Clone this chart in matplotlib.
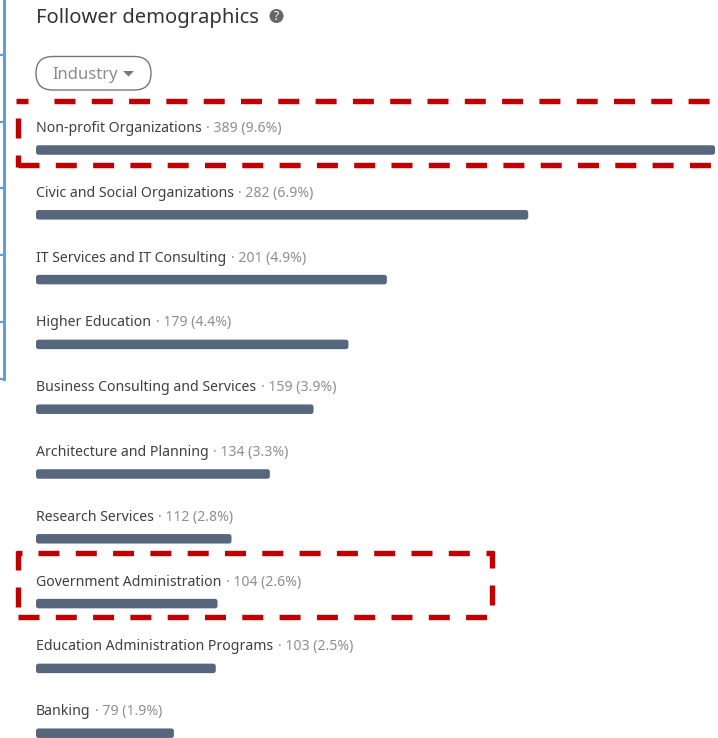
import matplotlib
matplotlib.use("Agg")
import matplotlib.pyplot as plt
from matplotlib.patches import Circle, FancyBboxPatch, Polygon

plt.rcParams['font.family'] = ['Noto Sans', 'DejaVu Sans']
plt.rcParams['lines.scale_dashes'] = False

industries = ["Non-profit Organizations", "Civic and Social Organizations",
              "IT Services and IT Consulting", "Higher Education",
              "Business Consulting and Services", "Architecture and Planning",
              "Research Services", "Government Administration",
              "Education Administration Programs", "Banking"]
followers = [389, 282, 201, 179, 159, 134, 112, 104, 103, 79]
shares = ["9.6%", "6.9%", "4.9%", "4.4%", "3.9%", "3.3%", "2.8%", "2.6%", "2.5%", "1.9%"]

W, H = 718, 738
PT = 72 / 100  # points per pixel at dpi 100
BAR_COLOR = "#56677d"
RED = "#c00000"
BLUE = "#5c9ee0"

fig = plt.figure(figsize=(W / 100, H / 100), dpi=100, facecolor="white")

# bars: x is follower count, y is the row number
ax = fig.add_axes([36 / W, 0, 679 / W, 1])
row_h = 64.8
ax.set_xlim(0, 389)
ax.set_ylim((H - 150) / row_h, -150 / row_h)
ax.axis("off")

px_x = 679 / 389
bar_h = 9.5 / row_h
radius = 2.5 / px_x
for i, (name, n, pct) in enumerate(zip(industries, followers, shares)):
    ax.add_patch(FancyBboxPatch((0, i - bar_h / 2), n, bar_h,
                                boxstyle=f"round,pad=0,rounding_size={radius}",
                                mutation_aspect=px_x / row_h,
                                fc=BAR_COLOR, ec="none"))
    label = ax.annotate(name, xy=(0, i), xytext=(0, 21.5 * PT), textcoords="offset points",
                        fontsize=10.15, color="#404040", va="center", ha="left")
    ax.annotate(f"· {n} ({pct})", xy=(1, 0.5), xycoords=label, xytext=(4.5 * PT, 0),
                textcoords="offset points", fontsize=10.15, color="#8f8f8f",
                va="center", ha="left")

# page furniture in pixel coordinates
ov = fig.add_axes([0, 0, 1, 1])
ov.set_xlim(0, W)
ov.set_ylim(H, 0)
ov.axis("off")

ov.text(36, 18.5, "Follower demographics", fontsize=14.5, color="#333333", va="center", ha="left")
ov.add_patch(Circle((276.5, 16), 7, fc="#666666", ec="none"))
ov.text(276.5, 16, "?", fontsize=8.5, fontweight="bold", color="white", va="center", ha="center")

ov.add_patch(FancyBboxPatch((36, 56.5), 115, 33.5, boxstyle="round,pad=0,rounding_size=16.7",
                            fc="white", ec="#777777", lw=1))
ov.text(52, 75, "Industry", fontsize=12, color="#8c8c8c", va="center", ha="left")
ov.add_patch(Polygon([(123, 71), (134, 71), (128.5, 76.5)], fc="#777777", ec="none"))

# chart frame cut off at the left edge
ov.plot([4, 4], [0, 379], color=BLUE, lw=2.2)
for y in [55, 122, 188, 255, 322, 379]:
    ov.plot([0, 4], [y, y], color=BLUE, lw=1.6)

# dashed highlight boxes
dash = (0, (21 * PT, 16.3 * PT))
def red(xs, ys, ls=dash):
    ov.plot(xs, ys, color=RED, lw=5.4 * PT, ls=ls, dash_capstyle="butt", solid_capstyle="butt")

# first box runs past the right edge
red([54, W], [101, 101])
red([16, 28], [101, 101], "-")
red([18, 18], [118, 138], "-")
red([18, 18], [155, 167], "-")
red([18, W], [164.5, 164.5])

# second box
red([38, 480], [552.5, 552.5])
red([18, 18], [551, 570], "-")
red([16, 22], [552.5, 552.5], "-")
red([18, 18], [587, 607], "-")
red([18, 488], [617, 617])
red([486, 494], [552.5, 552.5], "-")
red([492, 492], [551, 568], "-")
red([492, 492], [585, 605], "-")

fig.savefig("out.png", dpi=100)
